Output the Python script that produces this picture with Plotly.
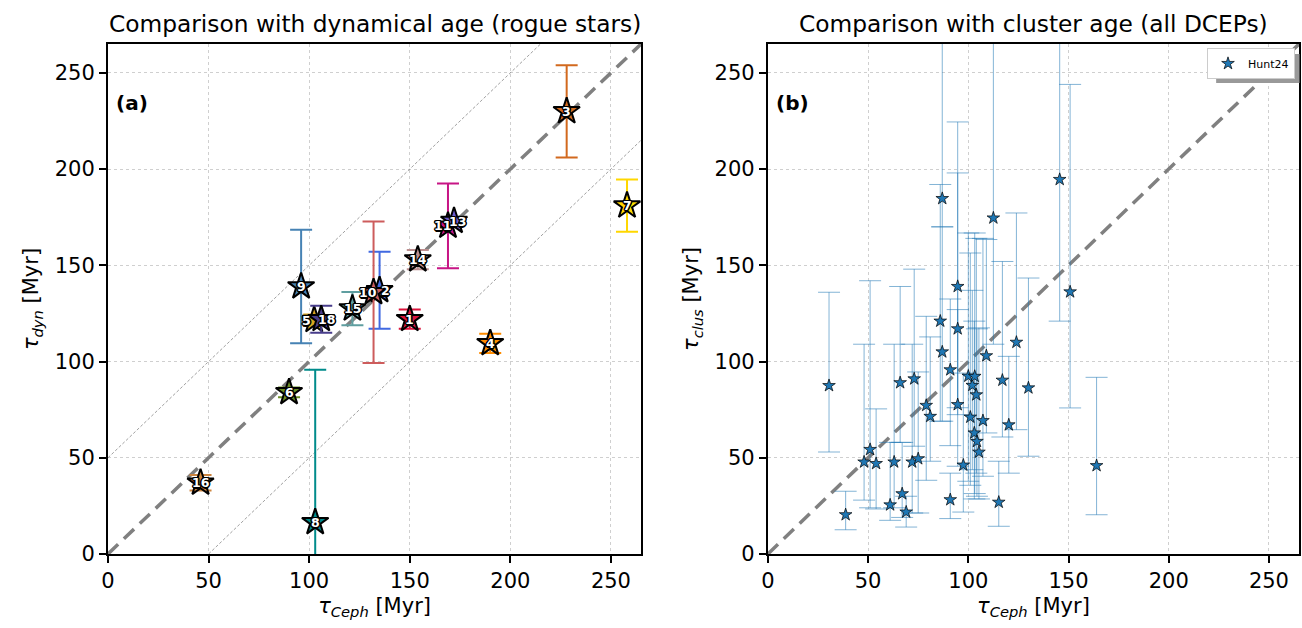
import plotly.graph_objects as go

# ---------------- Panel (a): rogue stars ----------------
star_ids = ["1", "2", "3", "4", "5", "6", "7", "8", "9", "10", "11", "13", "14", "15", "16", "18"]
tau_ceph_a = [150, 135, 228, 190, 102.5, 90, 258, 103, 96, 132, 169, 172, 154, 121.5, 46, 106]
tau_dyn_a = [122, 137, 230, 109.5, 121.5, 84, 181, 16.5, 139, 136, 170.5, 173, 153, 127.5, 37, 122]
err_dyn_a = [5, 20, 24, 5, 3, 2.5, 13.6, 79.3, 29.5, 36.8, 22, 0, 5, 8.7, 4, 7]
colors_a = ["#DC143C", "#4169E1", "#D2691E", "#FF8C00", "#DAA520", "#6B8E23", "#FFD700",
            "#008B8B", "#4682B4", "#CD5C5C", "#C71585", "#6A5ACD", "#BC8F8F", "#5F9EA0",
            "#CD853F", "#483D8B"]
# label pixel nudges (styling only)
label_shift_px = {"2": 6, "5": -8, "18": 5, "10": -6, "11": -5, "13": 3}

# ---------------- Panel (b): all DCEPs vs Hunt24 ----------------
tau_ceph_b = [30.5, 38.8, 48, 51, 54, 61, 63, 66, 67, 69, 72, 73, 75, 79, 81, 86, 87, 87, 91, 91,
              94.7, 94.7, 94.7, 97.5, 100, 101, 102, 103.2, 103, 104, 104.3, 105.3, 107.3, 109,
              112.5, 115.2, 117, 120.2, 124, 130, 145.6, 150.8, 164]
tau_clus_b = [87.5, 20.4, 47.8, 54.3, 47, 25.5, 47.8, 89, 31.3, 21.8, 47.8, 91, 49.5, 77.2, 71.5,
              121, 184.7, 105, 95.7, 28.2, 139, 117, 77.6, 46.2, 92.4, 71.1, 87.6, 92.3, 62.9,
              82.7, 58.5, 52.9, 69.3, 103, 174.6, 26.9, 90.3, 67.1, 110, 86.3, 194.6, 136.2, 45.9]
clus_lo_b = [53, 12.6, 28, 24, 23.4, 17.5, 24, 58, 19, 14, 21.3, 56, 21.3, 38.3, 48.2, 69, 170,
             69, 56.3, 18.4, 76, 72.4, 45.6, 21.8, 37.8, 35.7, 43.8, 31.4, 28.6, 42, 30, 28.6,
             40.4, 62.9, 109, 14.4, 60.8, 42, 64.6, 50.8, 121, 75.9, 20.4]
clus_hi_b = [136, 32.6, 109, 142, 75.4, 58, 109, 139, 58, 30, 109, 148, 94.6, 123.5, 112.8, 192,
             300, 170, 132.5, 42, 224.5, 198, 127, 94, 166.8, 156.4, 137, 166.8, 121, 164, 117,
             117.5, 164, 163.4, 300, 48.2, 152, 102.7, 177.2, 143.4, 300, 244, 91.8]

AXIS_MAX = 265
BAND = 50
tick_vals = [0, 50, 100, 150, 200, 250]

FONT = "DejaVu Sans"
fig = go.Figure()

# reference lines panel (a)
fig.add_trace(go.Scatter(x=[0, AXIS_MAX - BAND], y=[BAND, AXIS_MAX], mode="lines",
                         line=dict(color="#888888", width=0.8, dash="3px,2px"),
                         showlegend=False, hoverinfo="skip", xaxis="x", yaxis="y"))
fig.add_trace(go.Scatter(x=[BAND, AXIS_MAX], y=[0, AXIS_MAX - BAND], mode="lines",
                         line=dict(color="#888888", width=0.8, dash="3px,2px"),
                         showlegend=False, hoverinfo="skip", xaxis="x", yaxis="y"))
fig.add_trace(go.Scatter(x=[0, AXIS_MAX], y=[0, AXIS_MAX], mode="lines",
                         line=dict(color="#808080", width=3.5, dash="14px,8px"),
                         showlegend=False, hoverinfo="skip", xaxis="x", yaxis="y"))

for sid, xv, yv, ev, col in zip(star_ids, tau_ceph_a, tau_dyn_a, err_dyn_a, colors_a):
    fig.add_trace(go.Scatter(
        x=[xv], y=[yv], mode="markers",
        marker=dict(symbol="star", size=20, color=col, line=dict(color="black", width=2)),
        error_y=dict(type="data", array=[ev], color=col, thickness=2, width=11,
                     visible=ev > 0),
        showlegend=False, xaxis="x", yaxis="y", cliponaxis=True))

outline = ("1px 1px 0 #000, -1px -1px 0 #000, 1px -1px 0 #000, -1px 1px 0 #000, "
           "0 1.5px 0 #000, 0 -1.5px 0 #000, 1.5px 0 0 #000, -1.5px 0 0 #000")
annotations = []
for sid, xv, yv in zip(star_ids, tau_ceph_a, tau_dyn_a):
    annotations.append(dict(x=xv, y=yv, xref="x", yref="y", text=sid, showarrow=False,
                            xshift=label_shift_px.get(sid, 0),
                            font=dict(family=FONT, size=12.5, color="white", weight="bold",
                                      shadow=outline)))

# panel (b)
fig.add_trace(go.Scatter(x=[0, AXIS_MAX], y=[0, AXIS_MAX], mode="lines",
                         line=dict(color="#808080", width=3.5, dash="14px,8px"),
                         showlegend=False, hoverinfo="skip", xaxis="x2", yaxis="y2"))
err_plus = [h - v for h, v in zip(clus_hi_b, tau_clus_b)]
err_minus = [v - l for l, v in zip(clus_lo_b, tau_clus_b)]
fig.add_trace(go.Scatter(
    x=tau_ceph_b, y=tau_clus_b, mode="markers", name="Hunt24",
    marker=dict(symbol="star", size=9.5, color="#1f77b4", line=dict(color="black", width=0.7)),
    error_y=dict(type="data", symmetric=False, array=err_plus, arrayminus=err_minus,
                 color="rgba(31,119,180,0.55)", thickness=1, width=11),
    xaxis="x2", yaxis="y2", showlegend=True))

# panel titles and labels
annotations += [
    dict(text="Comparison with dynamical age (rogue stars)", xref="x domain", yref="paper",
         x=0.5, y=1, yanchor="bottom", xanchor="center", yshift=5, showarrow=False,
         font=dict(family=FONT, size=23.3, color="black")),
    dict(text="Comparison with cluster age (all DCEPs)", xref="x2 domain", yref="paper",
         x=0.5, y=1, yanchor="bottom", xanchor="center", yshift=5, showarrow=False,
         font=dict(family=FONT, size=23.3, color="black")),
    dict(text="<b>(a)</b>", xref="x domain", yref="y domain", x=0, y=0.884, xshift=6,
         xanchor="left", yanchor="middle", showarrow=False,
         font=dict(family=FONT, size=20, color="black")),
    dict(text="<b>(b)</b>", xref="x2 domain", yref="y2 domain", x=0, y=0.884, xshift=6,
         xanchor="left", yanchor="middle", showarrow=False,
         font=dict(family=FONT, size=20, color="black")),
]

axis_common = dict(range=[0, AXIS_MAX], tickvals=tick_vals, showgrid=True, gridcolor="#cfcfcf",
                   griddash="dot", gridwidth=1, showline=True, mirror=True, linecolor="black",
                   linewidth=2, ticks="outside", ticklen=7, tickwidth=1.5, tickcolor="black",
                   zeroline=False, tickfont=dict(family=FONT, size=21, color="black"))

L, R, T, B = 108, 1, 44, 74
W, H = 1302, 628
pw = W - L - R
ph = H - T - B

# legend shadow (matplotlib shadow=True look), drawn behind the legend box
shapes = [dict(type="rect", xref="paper", yref="paper",
               x0=1 - 83 / pw, x1=1 + 0.5 / pw, y0=1 - 39 / ph, y1=1 - 10 / ph,
               fillcolor="#999999", line=dict(width=0), layer="above")]

fig.update_layout(
    width=W, height=H, margin=dict(l=L, r=R, t=T, b=B),
    paper_bgcolor="white", plot_bgcolor="white",
    xaxis=dict(domain=[0, 534 / pw], anchor="y",
               title=dict(text="<i>τ</i><sub><i>Ceph</i></sub> [Myr]", standoff=6,
                          font=dict(family=FONT, size=21, color="black")), **axis_common),
    yaxis=dict(domain=[0, 1], anchor="x",
               title=dict(text="<i>τ</i><sub><i>dyn</i></sub> [Myr]", standoff=10,
                          font=dict(family=FONT, size=21, color="black")), **axis_common),
    xaxis2=dict(domain=[(769 - L) / pw, 1], anchor="y2",
                title=dict(text="<i>τ</i><sub><i>Ceph</i></sub> [Myr]", standoff=6,
                           font=dict(family=FONT, size=21, color="black")), **axis_common),
    yaxis2=dict(domain=[0, 1], anchor="x2",
                title=dict(text="<i>τ</i><sub><i>clus</i></sub> [Myr]", standoff=10,
                           font=dict(family=FONT, size=21, color="black")), **axis_common),
    annotations=annotations,
    shapes=shapes,
    showlegend=True,
    legend=dict(x=1 - 4 / pw, y=1 - 4 / ph, xanchor="right", yanchor="top", bgcolor="white",
                bordercolor="#cccccc", borderwidth=1, font=dict(family=FONT, size=11, color="black"),
                itemsizing="trace", itemwidth=30, tracegroupgap=0),
    font=dict(family=FONT),
)

fig.write_html("out.html")
